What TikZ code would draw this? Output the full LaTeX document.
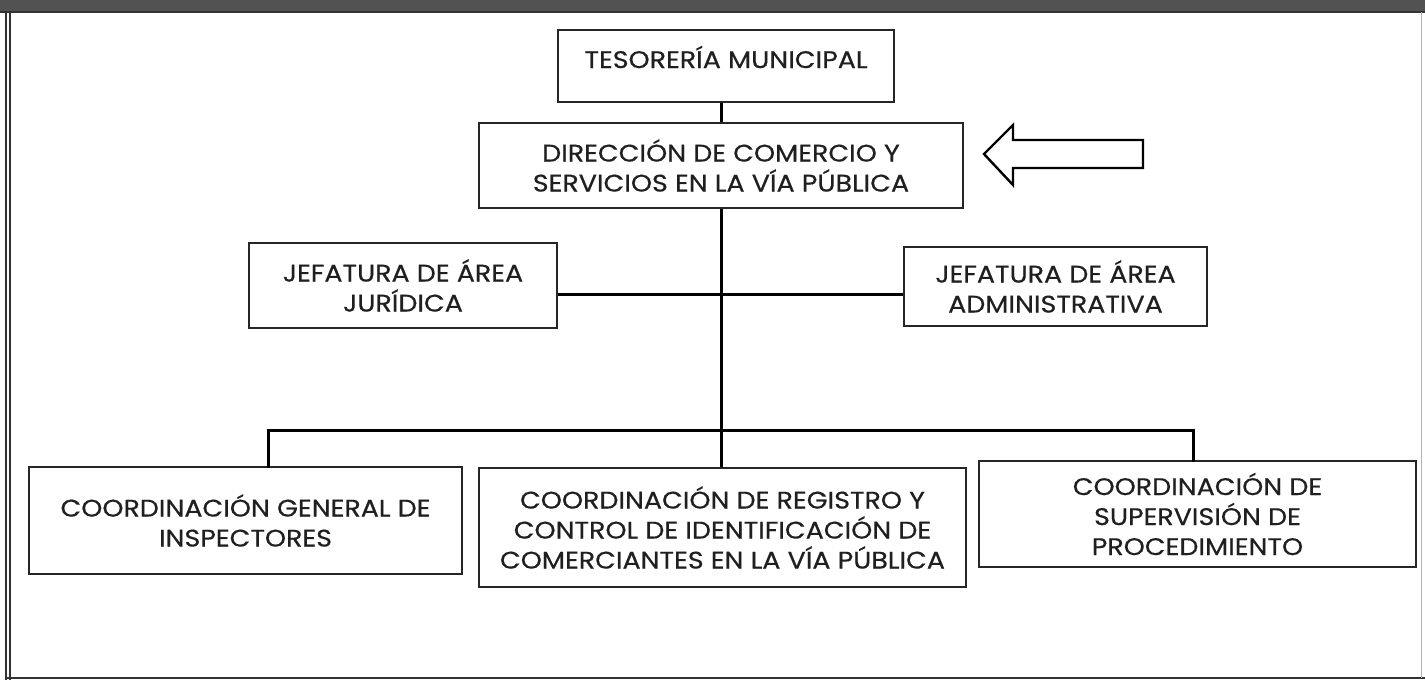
\documentclass[tikz,border=0pt]{standalone}
\usepackage{fontspec}
\setmainfont{Poppins}[FakeStretch=1.12, FakeBold=0.5]
\usetikzlibrary{calc}
\begin{document}
\begin{tikzpicture}[x=1pt,y=-1pt,
  box/.style={draw=black!85, line width=1.6pt, rectangle, inner sep=0pt, align=center,
    font=\fontsize{24}{30}\selectfont, text=black!88},
  conn/.style={draw=black, line width=3pt},
  frameline/.style={draw=black!80, line width=1.3pt}]
\useasboundingbox (0,0) rectangle (1425,680);
% frame
\fill[black!68] (0,0) rectangle (1425,11);
\draw[frameline, line width=2pt] (0,12) -- (1425,12);
\draw[frameline] (6,12) -- (6,680);
\draw[frameline] (10,12) -- (10,680);
\draw[frameline, line width=2pt] (6,678) -- (1425,678);
\draw[black!30, line width=0.8pt] (1421,12) -- (1421,678);
% boxes
\node[box, minimum width=336pt, minimum height=72pt,
  label={[font=\fontsize{24}{30}\selectfont, text=black!88, yshift=9pt]center:TESORERÍA MUNICIPAL}] (tes) at (726,66) {};
\node[box, minimum width=484pt, minimum height=85pt] (dir) at (721,165.5) {DIRECCIÓN DE COMERCIO Y\\SERVICIOS EN LA VÍA PÚBLICA};
\node[box, minimum width=308pt, minimum height=85pt] (jur) at (403,285.5) {JEFATURA DE ÁREA\\JURÍDICA};
\node[box, minimum width=303pt, minimum height=79pt] (adm) at (1055.5,286.5) {JEFATURA DE ÁREA\\ADMINISTRATIVA};
\node[box, minimum width=433pt, minimum height=107pt] (insp) at (245.5,520.5) {COORDINACIÓN GENERAL DE\\INSPECTORES};
\node[box, minimum width=487pt, minimum height=119pt] (reg) at (722.5,527.5) {COORDINACIÓN DE REGISTRO Y\\CONTROL DE IDENTIFICACIÓN DE\\COMERCIANTES EN LA VÍA PÚBLICA};
\node[box, minimum width=437pt, minimum height=106pt] (sup) at (1197.5,514) {COORDINACIÓN DE\\SUPERVISIÓN DE\\PROCEDIMIENTO};
% connectors
\coordinate (hline) at (721,294);
\coordinate (bl) at (268,430);
\coordinate (br) at (1193,430);
\draw[conn] (dir.north) -- (dir.north |- tes.south);
\draw[conn] (dir.south) -- (dir.south |- reg.north);
\draw[conn] (jur.east |- hline) -- (adm.west |- hline);
\draw[conn, line cap=rect] (bl |- insp.north) -- (bl) -- (br) -- (br |- sup.north);
% pointer arrow
\draw[black, line width=2.4pt, line join=miter] (984,154) -- (1013,125) -- (1013,140) -- (1143,140) -- (1143,168) -- (1013,168) -- (1013,185) -- cycle;
\end{tikzpicture}
\end{document}
